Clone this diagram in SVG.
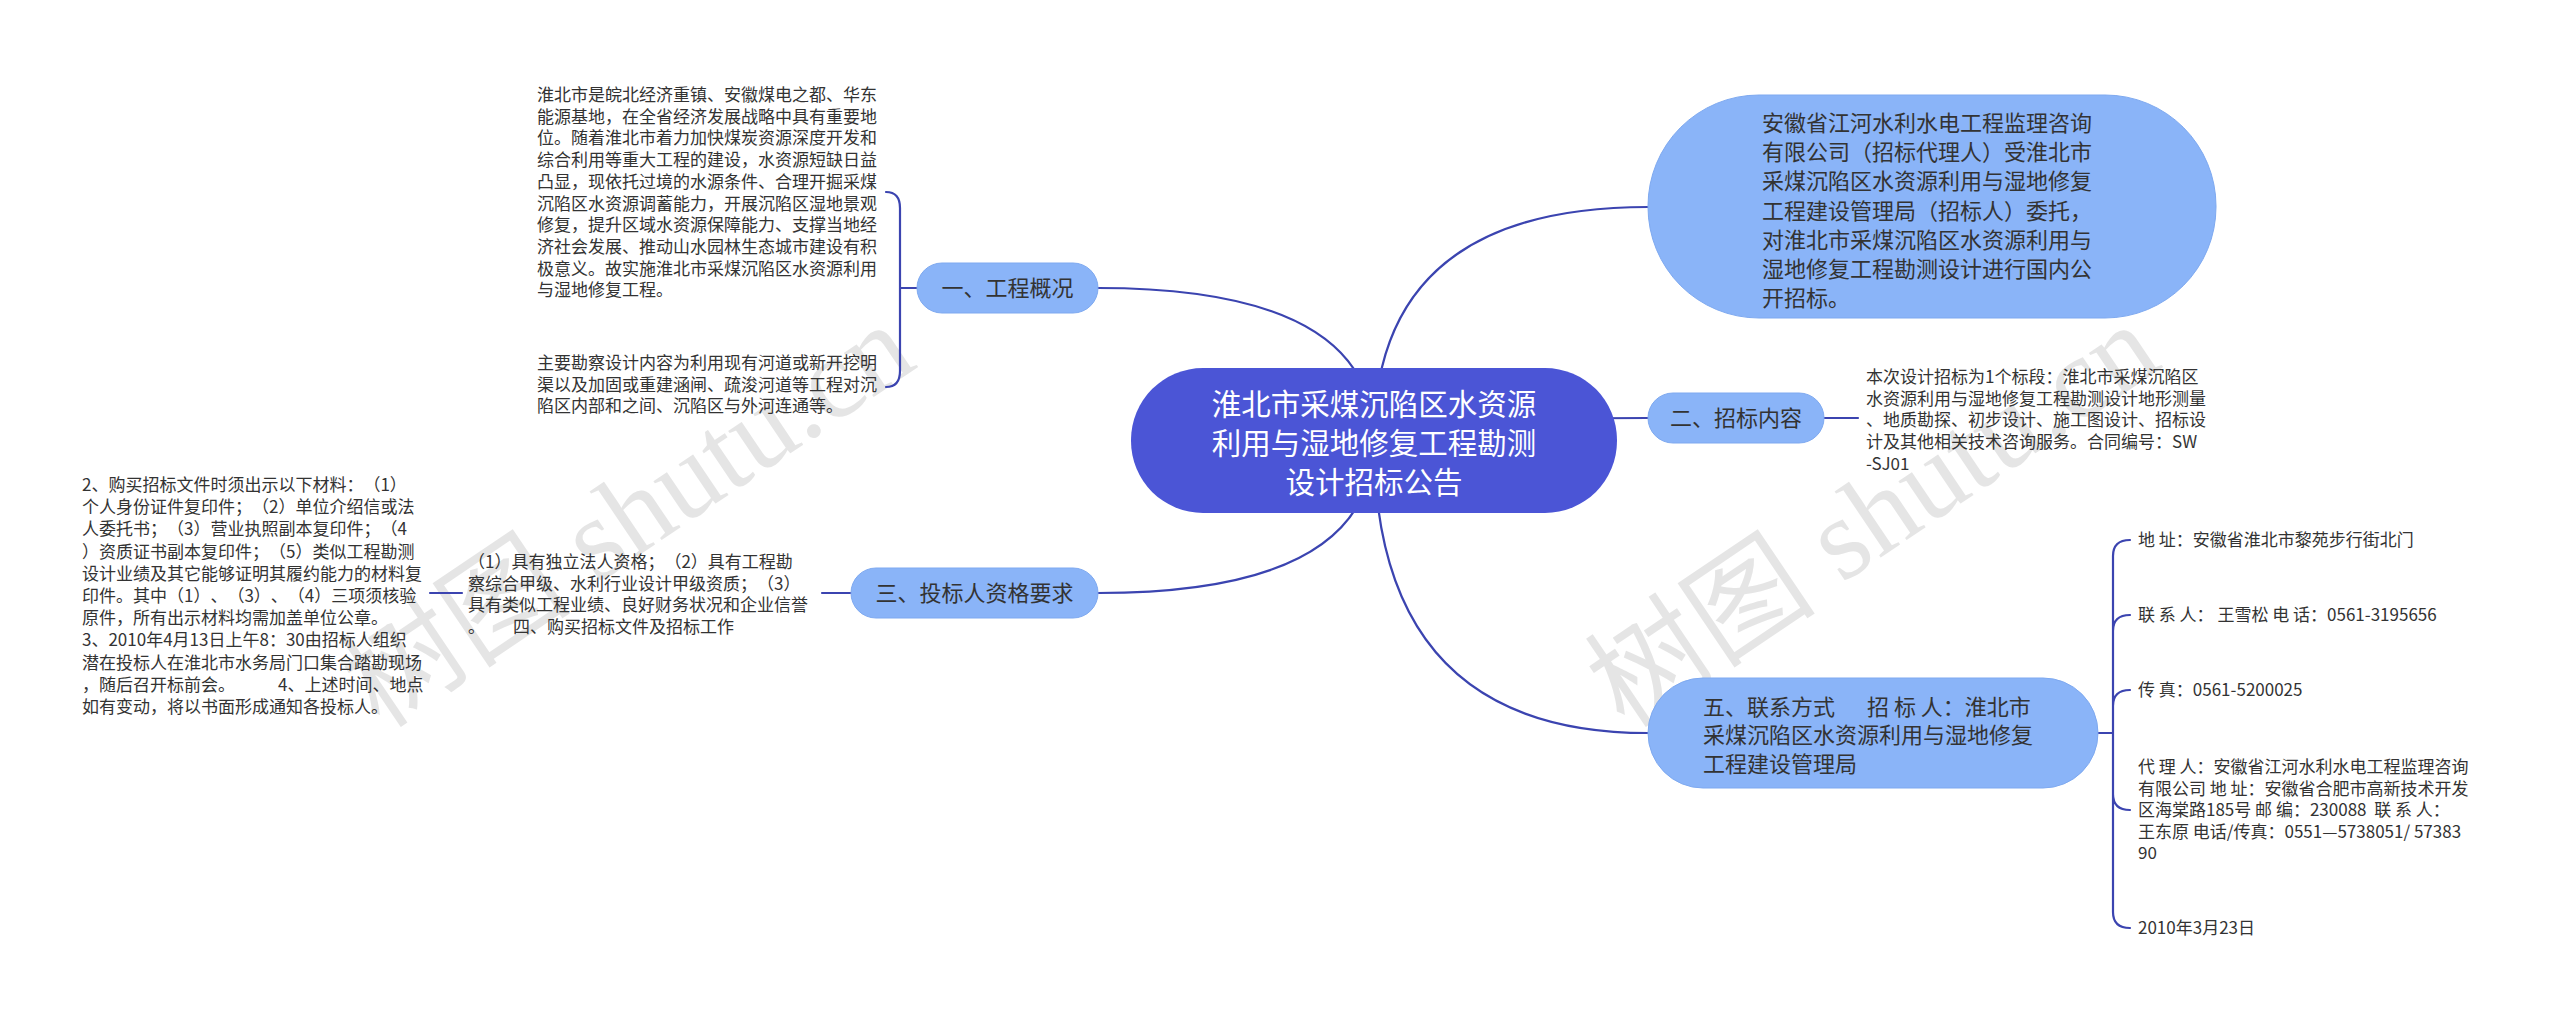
<svg xmlns="http://www.w3.org/2000/svg" width="2560" height="1020" viewBox="0 0 2560 1020">
<style>
.t{font-family:"Noto Sans CJK SC","Noto Sans",sans-serif;fill:#333;white-space:pre;text-spacing-trim:space-all;font-feature-settings:"chws" 0,"halt" 0,"palt" 0}
.s17{font-size:17px}
.s22{font-size:22px}
.pill{fill:#8ab4f8;stroke:#7ea9f0;stroke-width:1}
.root{fill:#4b55d6}
.ln{fill:none;stroke:#3b44b0;stroke-width:2.2;stroke-linecap:round}
.wm{font-family:"Liberation Serif","Noto Sans CJK SC",serif;font-size:116px;fill:#cccccc;opacity:0.5}
</style>
<rect width="2560" height="1020" fill="#ffffff"/>
<g id="watermarks">
<text class="wm" transform="translate(380,730) rotate(-34)">树图 shutu.cn</text>
<text class="wm" transform="translate(1625,730) rotate(-34)">树图 shutu.cn</text>
</g>
<g id="connectors">
<path class="ln" d="M1374,440 Q1374,288 1098,288"/>
<path class="ln" d="M1374,440 Q1374,207 1648,207"/>
<path class="ln" d="M1374,440 Q1374,418 1648,418"/>
<path class="ln" d="M1374,440 Q1374,593 1098,593"/>
<path class="ln" d="M1374,440 Q1374,733 1648,733"/>
<path class="ln" d="M917,288 H900 M900,288 V208 Q900,192 886,192 M900,288 V371 Q900,387 886,387"/>
<path class="ln" d="M1824,418 H1858"/>
<path class="ln" d="M851,593 H822"/>
<path class="ln" d="M462,593 H430"/>
<path class="ln" d="M2098,733 H2113 M2113,733 V556 Q2113,540 2130,540 M2113,733 V631 Q2113,615 2130,615 M2113,733 V706 Q2113,690 2130,690 M2113,733 V794 Q2113,810 2130,810 M2113,733 V912 Q2113,928 2130,928"/>
</g>
<g id="root">
<rect class="root" x="1131" y="368" width="486" height="145" rx="72"/>
<text class="t" style="font-size:29.5px;fill:#fff" text-anchor="middle" x="1374" y="415">淮北市采煤沉陷区水资源</text>
<text class="t" style="font-size:29.5px;fill:#fff" text-anchor="middle" x="1374" y="454">利用与湿地修复工程勘测</text>
<text class="t" style="font-size:29.5px;fill:#fff" text-anchor="middle" x="1374" y="493">设计招标公告</text>
</g>
<g id="n1">
<rect class="pill" x="917" y="263" width="181" height="50" rx="25"/>
<text class="t s22" text-anchor="middle" x="1007.5" y="296">一、工程概况</text>
</g>
<g id="n1a">
<text class="t s17" x="537" y="101">淮北市是皖北经济重镇、安徽煤电之都、华东</text>
<text class="t s17" x="537" y="122.7">能源基地，在全省经济发展战略中具有重要地</text>
<text class="t s17" x="537" y="144.4">位。随着淮北市着力加快煤炭资源深度开发和</text>
<text class="t s17" x="537" y="166.1">综合利用等重大工程的建设，水资源短缺日益</text>
<text class="t s17" x="537" y="187.8">凸显，现依托过境的水源条件、合理开掘采煤</text>
<text class="t s17" x="537" y="209.5">沉陷区水资源调蓄能力，开展沉陷区湿地景观</text>
<text class="t s17" x="537" y="231.2">修复，提升区域水资源保障能力、支撑当地经</text>
<text class="t s17" x="537" y="252.9">济社会发展、推动山水园林生态城市建设有积</text>
<text class="t s17" x="537" y="274.6">极意义。故实施淮北市采煤沉陷区水资源利用</text>
<text class="t s17" x="537" y="296.3">与湿地修复工程。</text>
</g>
<g id="n1b">
<text class="t s17" x="537" y="369">主要勘察设计内容为利用现有河道或新开挖明</text>
<text class="t s17" x="537" y="390.7">渠以及加固或重建涵闸、疏浚河道等工程对沉</text>
<text class="t s17" x="537" y="412.4">陷区内部和之间、沉陷区与外河连通等。</text>
</g>
<g id="n2">
<rect class="pill" x="1648" y="393" width="176" height="50" rx="25"/>
<text class="t s22" text-anchor="middle" x="1736" y="426">二、招标内容</text>
</g>
<g id="n2a">
<text class="t s17" x="1866" y="383">本次设计招标为1个标段：淮北市采煤沉陷区</text>
<text class="t s17" x="1866" y="404.7">水资源利用与湿地修复工程勘测设计地形测量</text>
<text class="t s17" x="1866" y="426.4">、地质勘探、初步设计、施工图设计、招标设</text>
<text class="t s17" x="1866" y="448.1">计及其他相关技术咨询服务。合同编号：SW</text>
<text class="t s17" x="1866" y="469.8">-SJ01</text>
</g>
<g id="n0">
<rect class="pill" x="1648" y="95" width="568" height="223" rx="111"/>
<text class="t s22" x="1762" y="131">安徽省江河水利水电工程监理咨询</text>
<text class="t s22" x="1762" y="160.2">有限公司（招标代理人）受淮北市</text>
<text class="t s22" x="1762" y="189.4">采煤沉陷区水资源利用与湿地修复</text>
<text class="t s22" x="1762" y="218.6">工程建设管理局（招标人）委托，</text>
<text class="t s22" x="1762" y="247.8">对淮北市采煤沉陷区水资源利用与</text>
<text class="t s22" x="1762" y="277">湿地修复工程勘测设计进行国内公</text>
<text class="t s22" x="1762" y="306.2">开招标。</text>
</g>
<g id="n3">
<rect class="pill" x="851" y="568" width="247" height="50" rx="25"/>
<text class="t s22" text-anchor="middle" x="974.5" y="601">三、投标人资格要求</text>
</g>
<g id="n3a">
<text class="t s17" x="468" y="568">（1）具有独立法人资格；（2）具有工程勘</text>
<text class="t s17" x="468" y="589.7">察综合甲级、水利行业设计甲级资质；（3）</text>
<text class="t s17" x="468" y="611.4">具有类似工程业绩、良好财务状况和企业信誉</text>
<text class="t s17" x="468" y="633.1">。</text>
<text class="t s17" x="513" y="633.1">四、购买招标文件及招标工作</text>
</g>
<g id="n3b">
<text class="t s17" x="82" y="491">2、购买招标文件时须出示以下材料：（1）</text>
<text class="t s17" x="82" y="513.2">个人身份证件复印件；（2）单位介绍信或法</text>
<text class="t s17" x="82" y="535.4">人委托书；（3）营业执照副本复印件；（4</text>
<text class="t s17" x="82" y="557.6">）资质证书副本复印件；（5）类似工程勘测</text>
<text class="t s17" x="82" y="579.8">设计业绩及其它能够证明其履约能力的材料复</text>
<text class="t s17" x="82" y="602">印件。其中（1）、（3）、（4）三项须核验</text>
<text class="t s17" x="82" y="624.2">原件，所有出示材料均需加盖单位公章。</text>
<text class="t s17" x="82" y="646.4">3、2010年4月13日上午8：30由招标人组织</text>
<text class="t s17" x="82" y="668.6">潜在投标人在淮北市水务局门口集合踏勘现场</text>
<text class="t s17" x="82" y="690.8">，随后召开标前会。</text>
<text class="t s17" x="278" y="690.8">4、上述时间、地点</text>
<text class="t s17" x="82" y="713">如有变动，将以书面形成通知各投标人。</text>
</g>
<g id="n5">
<rect class="pill" x="1648" y="678" width="450" height="110" rx="55"/>
<text class="t s22" x="1703" y="715">五、联系方式</text>
<text class="t s22" x="1867" y="715">招 标 人：淮北市</text>
<text class="t s22" x="1703" y="743.3">采煤沉陷区水资源利用与湿地修复</text>
<text class="t s22" x="1703" y="771.6">工程建设管理局</text>
</g>
<g id="n5a"><text class="t s17" x="2138" y="546">地 址：安徽省淮北市黎苑步行街北门</text></g>
<g id="n5b"><text class="t s17" x="2138" y="621">联 系 人： 王雪松 电 话：0561-3195656</text></g>
<g id="n5c"><text class="t s17" x="2138" y="696">传 真：0561-5200025</text></g>
<g id="n5d">
<text class="t s17" x="2138" y="773">代 理 人：安徽省江河水利水电工程监理咨询</text>
<text class="t s17" x="2138" y="794.5">有限公司 地 址：安徽省合肥市高新技术开发</text>
<text class="t s17" x="2138" y="816">区海棠路185号 邮 编：230088  联 系 人：</text>
<text class="t s17" x="2138" y="837.5">王东原 电话/传真：0551—5738051/ 57383</text>
<text class="t s17" x="2138" y="859">90</text>
</g>
<g id="n5e"><text class="t s17" x="2138" y="934">2010年3月23日</text></g>
</svg>
